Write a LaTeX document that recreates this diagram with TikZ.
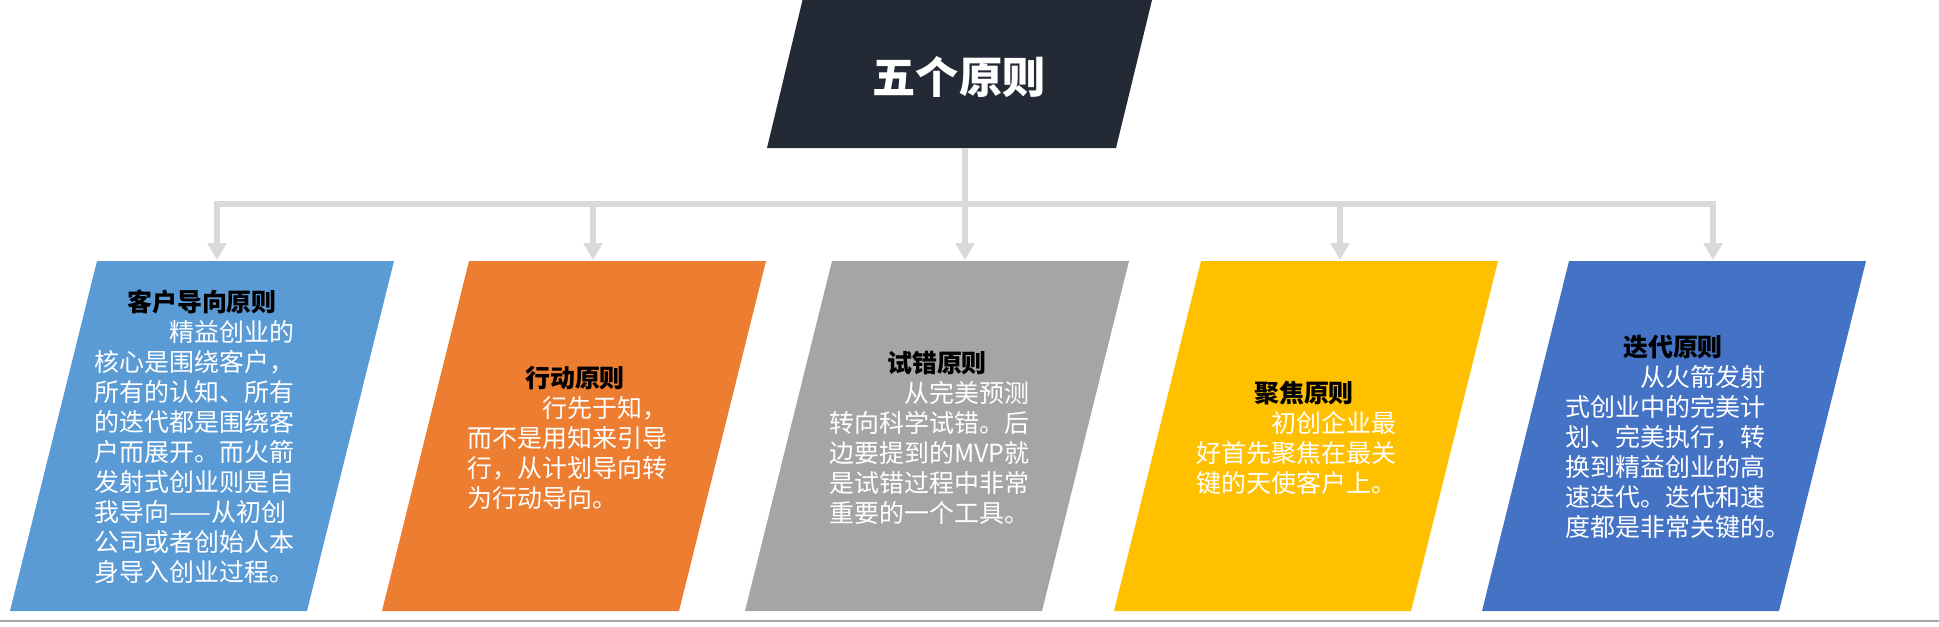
\documentclass[tikz,border=0pt]{standalone}
\usepackage{fontspec}
\newfontfamily\cjk{Noto Sans CJK SC}
\usetikzlibrary{arrows.meta}
\definecolor{ink}{HTML}{232A36}
\definecolor{wire}{HTML}{D9D9D9}
\definecolor{rulegray}{HTML}{A6A6A6}
\definecolor{skyblue}{HTML}{5B9BD5}
\definecolor{tangerine}{HTML}{ED7D31}
\definecolor{slate}{HTML}{A5A5A5}
\definecolor{amber}{HTML}{FFC000}
\definecolor{royal}{HTML}{4472C4}

\tikzset{
  principle/.style={text=white,text width=4.3cm,align=left,inner sep=0pt,
    font=\cjk\fontsize{14.2pt}{17.07pt}\selectfont},
  link/.style={wire,line width=3.4pt,line join=miter,
    -{Triangle[length=0.34cm,width=0.37cm]}},
}

\begin{document}
\begin{tikzpicture}[>=Latex,x=0.02cm,y=-0.02cm]
  \useasboundingbox (0,0) rectangle (1939,626);
  \coordinate (root) at (965,148);
  \coordinate (bus) at (965,204);
  \foreach \n/\x in {1/217,2/593,3/965,4/1340,5/1713}
    \coordinate (in\n) at (\x,260);

  % title block
  \fill[ink] (803,-2) -- (1152.5,-2) -- (1116,148) -- (767,148) -- cycle;
  \node[text=white,font=\cjk\bfseries\fontsize{24.6pt}{29pt}\selectfont] (head) at (959,77) {五个原则};

  % the five cards
  \foreach \x/\c in {97/skyblue,469/tangerine,832/slate,1201/amber,1569/royal}
    \fill[\c] (\x,261) -- ++(297,0) -- ++(-87,350) -- ++(-297,0) -- cycle;
  \draw[rulegray,line width=1.2pt] (0,621) -- (1939,621);

  \draw[link] (root) -- (in3);
  \draw[link,{Triangle[length=0.34cm,width=0.37cm]}-{Triangle[length=0.34cm,width=0.37cm]}]
    (in1) |- (bus) -| (in5);
  \draw[link] (in2 |- bus) -- (in2);
  \draw[link] (in4 |- bus) -- (in4);

  \node[principle] (client) at (202,437) {%
    \makebox[4.3cm]{\color{black}\bfseries 客户导向原则}\\
    \hspace*{3em}精益创业的\\
    核心是围绕客户，\\
    所有的认知、所有\\
    的迭代都是围绕客\\
    户而展开。而火箭\\
    发射式创业则是自\\
    我导向——从初创\\
    公司或者创始人本\\
    身导入创业过程。};
  \node[principle] (action) at (575,438) {%
    \makebox[4.3cm]{\color{black}\bfseries 行动原则}\\
    \hspace*{3em}行先于知，\\
    而不是用知来引导\\
    行，从计划导向转\\
    为行动导向。};
  \node[principle] (trial) at (937,438) {%
    \makebox[4.3cm]{\color{black}\bfseries 试错原则}\\
    \hspace*{3em}从完美预测\\
    转向科学试错。后\\
    边要提到的MVP就\\
    是试错过程中非常\\
    重要的一个工具。};
  \node[principle] (focus) at (1304,438) {%
    \makebox[4.3cm]{\color{black}\bfseries 聚焦原则}\\
    \hspace*{3em}初创企业最\\
    好首先聚焦在最关\\
    键的天使客户上。};
  \node[principle] (iterate) at (1673,437) {%
    \makebox[4.3cm]{\color{black}\bfseries 迭代原则}\\
    \hspace*{3em}从火箭发射\\
    式创业中的完美计\\
    划、完美执行，转\\
    换到精益创业的高\\
    速迭代。迭代和速\\
    度都是非常关键的。};
\end{tikzpicture}
\end{document}
